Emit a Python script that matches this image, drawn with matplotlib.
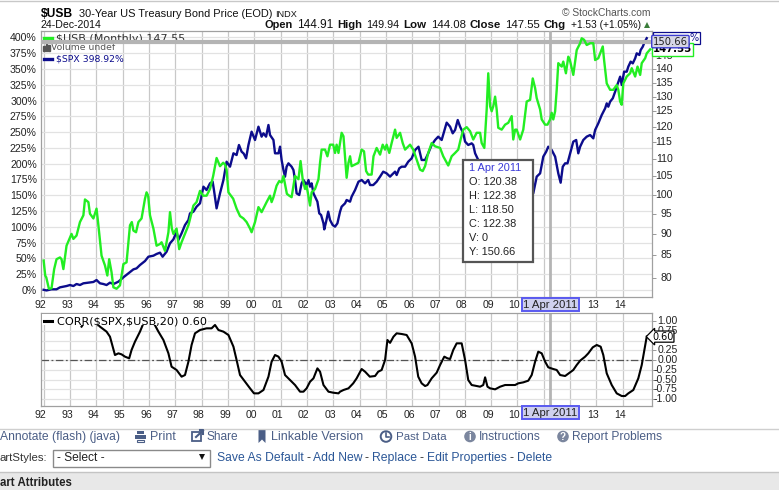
import numpy as np
import matplotlib.pyplot as plt
import matplotlib.transforms as mtrans
from matplotlib import font_manager
from matplotlib.patches import Rectangle, Polygon, Circle
from matplotlib.ticker import FixedLocator, NullLocator, NullFormatter

W, H = 779, 490

# $USB monthly close, right axis (log scale)
usb_dates = [1992.00, 1992.06, 1992.10, 1992.20, 1992.30, 1992.40, 1992.49, 1992.62, 1992.68, 1992.75,
             1992.87, 1993.06, 1993.13, 1993.25, 1993.38, 1993.51, 1993.57, 1993.70, 1993.76, 1993.89,
             1994.01, 1994.08, 1994.20, 1994.33, 1994.42, 1994.49, 1994.58, 1994.65, 1994.77, 1994.90,
             1995.03, 1995.15, 1995.28, 1995.35, 1995.41, 1995.51, 1995.60, 1995.72, 1995.85, 1995.91,
             1995.97, 1996.04, 1996.17, 1996.29, 1996.42, 1996.48, 1996.61, 1996.74, 1996.80, 1996.87,
             1996.93, 1997.05, 1997.15, 1997.24, 1997.37, 1997.50, 1997.69, 1997.81, 1997.94, 1998.06,
             1998.19, 1998.32, 1998.44, 1998.57, 1998.70, 1998.82, 1998.89, 1998.95, 1999.02, 1999.20,
             1999.33, 1999.46, 1999.59, 1999.71, 1999.84, 1999.90, 2000.03, 2000.16, 2000.28, 2000.47,
             2000.60, 2000.66, 2000.73, 2000.85, 2000.95, 2001.04, 2001.11, 2001.17, 2001.24, 2001.33,
             2001.42, 2001.49, 2001.55, 2001.68, 2001.76, 2001.84, 2001.93, 2001.99, 2002.12, 2002.18,
             2002.31, 2002.44, 2002.50, 2002.56, 2002.69, 2002.78, 2002.88, 2003.00, 2003.07, 2003.13,
             2003.20, 2003.32, 2003.39, 2003.51, 2003.58, 2003.64, 2003.70, 2003.83, 2003.96, 2004.08,
             2004.17, 2004.25, 2004.33, 2004.46, 2004.53, 2004.65, 2004.78, 2004.88, 2004.97, 2005.03,
             2005.13, 2005.22, 2005.35, 2005.41, 2005.54, 2005.64, 2005.73, 2005.86, 2005.92, 2006.04,
             2006.17, 2006.30, 2006.40, 2006.49, 2006.61, 2006.74, 2006.87, 2007.06, 2007.18, 2007.37,
             2007.50, 2007.63, 2007.75, 2007.84, 2007.94, 2008.07, 2008.20, 2008.32, 2008.45, 2008.58,
             2008.64, 2008.74, 2008.83, 2008.89, 2008.96, 2009.02, 2009.08, 2009.15, 2009.21, 2009.27,
             2009.40, 2009.53, 2009.65, 2009.78, 2009.84, 2009.91, 2009.97, 2010.10, 2010.22, 2010.35,
             2010.48, 2010.58, 2010.67, 2010.73, 2010.86, 2010.92, 2011.05, 2011.14, 2011.24, 2011.30,
             2011.36, 2011.43, 2011.49, 2011.55, 2011.68, 2011.74, 2011.84, 2011.93, 2011.99, 2012.06,
             2012.12, 2012.19, 2012.25, 2012.38, 2012.44, 2012.53, 2012.63, 2012.76, 2012.88, 2012.95,
             2013.07, 2013.14, 2013.24, 2013.29, 2013.39, 2013.52, 2013.64, 2013.77, 2013.83, 2013.90,
             2013.96, 2014.02, 2014.15, 2014.28, 2014.34, 2014.47, 2014.56, 2014.66, 2014.72, 2014.85,
             2014.91, 2015.04]
usb_price = [83.8, 80.5, 80.1, 77.7, 77.8, 81.9, 84.1, 84.5, 84.1, 81.9,
             87.2, 90.0, 88.8, 89.6, 92.9, 94.6, 98.7, 98.0, 95.0, 93.8,
             96.3, 92.1, 84.9, 82.7, 80.5, 84.1, 81.2, 78.0, 77.7, 78.4,
             83.0, 83.4, 92.1, 92.9, 90.8, 90.4, 92.9, 93.8, 98.9, 100.6,
             99.7, 94.6, 91.3, 87.2, 87.6, 88.0, 86.0, 90.4, 95.4, 91.3,
             90.0, 91.3, 86.4, 88.0, 90.0, 92.1, 97.1, 98.0, 101.0, 99.7,
             99.7, 101.5, 105.1, 110.3, 107.9, 108.9, 108.4, 106.9, 100.6, 98.9,
             96.3, 94.4, 93.8, 92.9, 91.3, 90.4, 92.9, 96.7, 95.4, 98.0,
             99.7, 98.0, 99.3, 102.4, 103.7, 103.3, 105.1, 102.8, 100.2, 99.7,
             99.3, 102.4, 105.1, 104.2, 109.4, 104.2, 101.5, 102.4, 97.1, 100.6,
             101.5, 104.2, 108.9, 112.8, 112.8, 110.8, 114.3, 114.3, 111.8, 114.3,
             111.8, 118.0, 116.9, 104.6, 108.9, 110.8, 107.9, 108.4, 108.9, 112.8,
             112.3, 106.5, 105.5, 105.5, 110.8, 113.3, 111.3, 114.3, 112.8, 114.3,
             111.8, 114.8, 119.0, 116.4, 118.0, 114.8, 112.8, 113.8, 114.3, 112.8,
             109.8, 106.9, 106.5, 107.9, 111.8, 114.8, 113.8, 113.3, 110.8, 108.1,
             110.8, 111.8, 112.8, 115.9, 119.0, 119.8, 118.5, 115.9, 118.0, 118.0,
             114.8, 113.3, 125.6, 138.4, 126.7, 125.0, 126.7, 130.0, 125.6, 119.6,
             119.0, 120.6, 121.2, 123.4, 115.9, 119.0, 119.0, 115.9, 119.0, 128.3,
             128.9, 136.5, 133.0, 129.5, 125.6, 122.3, 120.6, 120.6, 122.3, 124.5,
             122.3, 125.0, 132.4, 142.2, 140.9, 142.8, 138.4, 144.7, 143.4, 140.3,
             137.8, 142.8, 147.3, 150.0, 152.0, 151.4, 149.3, 150.0, 150.0, 143.4,
             144.1, 146.0, 148.7, 143.4, 134.7, 132.4, 132.4, 134.1, 132.4, 128.3,
             127.2, 134.7, 137.2, 138.4, 140.3, 137.2, 140.9, 137.8, 142.2, 144.1,
             146.0, 147.55]

# $SPX, percent change since the first bar (left axis)
spx_dates = [1992.00, 1992.11, 1992.30, 1992.49, 1992.62, 1992.87, 1993.00, 1993.13, 1993.25, 1993.38,
             1993.51, 1993.70, 1993.89, 1994.01, 1994.14, 1994.27, 1994.39, 1994.52, 1994.65, 1994.71,
             1994.84, 1995.03, 1995.22, 1995.41, 1995.53, 1995.66, 1995.85, 1995.98, 1996.17, 1996.29,
             1996.42, 1996.52, 1996.67, 1996.80, 1996.93, 1997.05, 1997.12, 1997.24, 1997.37, 1997.50,
             1997.56, 1997.69, 1997.81, 1997.94, 1998.07, 1998.19, 1998.32, 1998.42, 1998.47, 1998.57,
             1998.70, 1998.83, 1998.95, 1999.08, 1999.21, 1999.33, 1999.42, 1999.52, 1999.60, 1999.69,
             1999.78, 1999.90, 2000.03, 2000.16, 2000.28, 2000.35, 2000.45, 2000.54, 2000.60, 2000.73,
             2000.79, 2000.92, 2000.98, 2001.04, 2001.11, 2001.17, 2001.23, 2001.30, 2001.36, 2001.42,
             2001.49, 2001.55, 2001.61, 2001.71, 2001.80, 2001.87, 2001.99, 2002.06, 2002.12, 2002.18,
             2002.25, 2002.40, 2002.47, 2002.54, 2002.63, 2002.66, 2002.73, 2002.81, 2002.88, 2002.98,
             2003.07, 2003.16, 2003.26, 2003.32, 2003.45, 2003.51, 2003.64, 2003.70, 2003.83, 2003.96,
             2004.08, 2004.21, 2004.33, 2004.40, 2004.52, 2004.65, 2004.78, 2004.90, 2005.03, 2005.16,
             2005.22, 2005.35, 2005.41, 2005.51, 2005.60, 2005.73, 2005.85, 2005.98, 2006.11, 2006.24,
             2006.36, 2006.49, 2006.61, 2006.74, 2006.87, 2006.99, 2007.12, 2007.21, 2007.31, 2007.44,
             2007.54, 2007.63, 2007.73, 2007.82, 2007.94, 2008.01, 2008.13, 2008.26, 2008.32, 2008.39,
             2008.51, 2008.60, 2008.68, 2008.76, 2008.84, 2008.92, 2009.00, 2009.08, 2009.17, 2009.25,
             2009.33, 2009.42, 2009.50, 2009.58, 2009.67, 2009.75, 2009.83, 2009.92, 2010.00, 2010.08,
             2010.17, 2010.25, 2010.33, 2010.42, 2010.50, 2010.60, 2010.73, 2010.86, 2010.98, 2011.09,
             2011.17, 2011.30, 2011.43, 2011.55, 2011.64, 2011.72, 2011.81, 2011.90, 2012.00, 2012.12,
             2012.23, 2012.31, 2012.38, 2012.50, 2012.63, 2012.76, 2012.88, 2012.95, 2013.07, 2013.20,
             2013.33, 2013.39, 2013.45, 2013.52, 2013.62, 2013.71, 2013.77, 2013.90, 2013.96, 2014.05,
             2014.15, 2014.21, 2014.30, 2014.38, 2014.47, 2014.53, 2014.63, 2014.68, 2014.76, 2014.81,
             2014.91]
spx_pct = [0.0, -1.0, 0.8, 0.8, 3.9, 6.0, 7.6, 6.0, 9.2, 7.6,
           10.3, 11.3, 12.4, 15.5, 10.3, 9.2, 7.6, 11.3, 9.2, 10.3,
           12.9, 19.8, 26.1, 32.4, 34.0, 39.3, 45.6, 52.5, 54.1, 56.8,
           58.9, 52.5, 60.4, 73.7, 80.0, 92.2, 79.0, 89.5, 102.7, 110.6,
           121.2, 123.9, 131.8, 137.1, 163.5, 158.2, 168.8, 171.4, 158.2, 129.1,
           152.9, 174.1, 203.1, 195.2, 216.4, 213.7, 229.6, 219.0, 216.0, 208.4,
           229.6, 250.7, 237.5, 258.6, 242.8, 248.1, 242.8, 261.3, 245.4, 237.5,
           216.4, 216.4, 226.9, 205.8, 189.9, 179.4, 195.2, 200.5, 197.8, 195.2,
           189.9, 174.1, 152.9, 150.3, 168.8, 174.1, 166.1, 174.1, 163.5, 168.8,
           152.9, 139.7, 121.2, 118.6, 105.4, 95.8, 108.0, 123.9, 110.6, 102.7,
           100.1, 105.4, 123.9, 131.8, 137.1, 142.4, 139.7, 147.7, 158.2, 171.4,
           174.1, 168.8, 174.1, 166.1, 166.1, 171.4, 179.4, 187.3, 184.6, 179.4,
           182.0, 187.3, 182.0, 192.6, 195.2, 195.2, 203.1, 208.4, 221.6, 226.9,
           205.8, 205.8, 216.4, 229.6, 237.5, 242.8, 237.5, 250.7, 265.0, 258.6,
           248.1, 253.4, 269.2, 258.6, 248.1, 234.9, 229.6, 232.2, 229.6, 216.4,
           205.8, 204.0, 180.0, 132.0, 115.0, 116.0, 98.0, 76.0, 91.0, 109.0,
           120.0, 120.0, 137.0, 145.0, 153.0, 148.0, 163.0, 167.0, 157.0, 165.0,
           180.0, 185.0, 161.0, 147.0, 164.0, 152.9, 179.4, 184.6, 211.1, 219.0,
           226.9, 221.6, 211.1, 184.6, 169.8, 195.2, 200.5, 200.5, 216.4, 234.9,
           237.5, 216.4, 226.9, 237.5, 242.8, 245.4, 240.1, 253.4, 263.9, 277.1,
           287.7, 295.6, 290.3, 298.3, 303.6, 314.1, 322.1, 337.9, 324.7, 345.8,
           345.8, 353.8, 361.7, 359.0, 367.0, 374.9, 372.3, 380.2, 385.5, 390.8,
           398.92]

# CORR($SPX,$USB,20), lower panel
corr_dates = [1993.44, 1993.57, 1993.82, 1994.01, 1994.14, 1994.39, 1994.52, 1994.71, 1994.84, 1994.96,
              1995.09, 1995.25, 1995.34, 1995.47, 1995.66, 1995.79, 1995.91, 1996.10, 1996.19, 1996.36,
              1996.55, 1996.74, 1996.86, 1997.05, 1997.24, 1997.37, 1997.50, 1997.62, 1997.75, 1997.94,
              1998.19, 1998.38, 1998.51, 1998.64, 1998.83, 1999.02, 1999.21, 1999.33, 1999.46, 1999.65,
              1999.84, 1999.99, 2000.16, 2000.35, 2000.54, 2000.66, 2000.79, 2000.92, 2001.04, 2001.17,
              2001.36, 2001.55, 2001.74, 2001.87, 2001.99, 2002.12, 2002.25, 2002.40, 2002.50, 2002.63,
              2002.82, 2003.00, 2003.20, 2003.26, 2003.39, 2003.58, 2003.76, 2003.89, 2004.08, 2004.21,
              2004.39, 2004.59, 2004.71, 2004.84, 2004.97, 2005.06, 2005.16, 2005.29, 2005.41, 2005.60,
              2005.79, 2005.98, 2006.11, 2006.23, 2006.36, 2006.49, 2006.58, 2006.74, 2006.93, 2007.06,
              2007.22, 2007.34, 2007.44, 2007.56, 2007.69, 2007.88, 2008.01, 2008.13, 2008.26, 2008.45,
              2008.58, 2008.70, 2008.77, 2008.86, 2008.96, 2009.15, 2009.34, 2009.53, 2009.72, 2009.91,
              2010.03, 2010.22, 2010.41, 2010.54, 2010.67, 2010.79, 2010.92, 2011.05, 2011.17, 2011.36,
              2011.49, 2011.62, 2011.81, 2012.00, 2012.12, 2012.25, 2012.38, 2012.57, 2012.69, 2012.86,
              2013.01, 2013.16, 2013.26, 2013.39, 2013.58, 2013.77, 2013.96, 2014.09, 2014.21, 2014.40,
              2014.59, 2014.72, 2014.81, 2014.91]
corr_vals = [0.855, 0.98, 1.0, 0.94, 0.855, 0.727, 0.598, 0.128, 0.171, 0.145,
             0.086, 0.043, 0.257, 0.47, 0.727, 0.94, 0.99, 0.98, 0.94, 0.727,
             0.513, 0.171, -0.171, -0.256, -0.427, -0.385, -0.043, 0.385, 0.684, 0.769,
             0.812, 0.812, 0.898, 0.769, 0.727, 0.641, 0.342, 0.0, -0.385, -0.556,
             -0.726, -0.855, -0.855, -0.769, -0.427, -0.043, 0.128, 0.086, -0.043, -0.385,
             -0.513, -0.641, -0.812, -0.812, -0.726, -0.556, -0.47, -0.214, -0.299, -0.641,
             -0.812, -0.838, -0.855, -0.812, -0.769, -0.726, -0.598, -0.47, -0.231, -0.299,
             -0.427, -0.41, -0.299, -0.256, 0.0, 0.513, 0.44, 0.598, 0.684, 0.667,
             0.641, 0.427, 0.086, -0.427, -0.598, -0.667, -0.641, -0.47, -0.325, -0.128,
             0.086, 0.043, 0.026, 0.257, 0.427, 0.427, 0.0, -0.513, -0.641, -0.667,
             -0.684, -0.641, -0.444, -0.684, -0.726, -0.752, -0.684, -0.641, -0.641, -0.641,
             -0.598, -0.573, -0.53, -0.385, -0.043, 0.214, 0.171, -0.043, -0.188, -0.231,
             -0.256, -0.385, -0.41, -0.316, -0.256, -0.128, -0.017, 0.086, 0.171, 0.325,
             0.385, 0.342, 0.128, -0.342, -0.641, -0.855, -0.923, -0.923, -0.855, -0.769,
             -0.47, -0.128, 0.214, 0.60]

years = list(range(1992, 2015))
# 11 and 12 sit under the crosshair date box in the picture
year_labels = ['' if y in (2011, 2012) else '%02d' % (y % 100) for y in years]
pct_ticks = list(range(0, 401, 25))
price_ticks = list(range(80, 150, 5))
corr_ticks = [1.0, 0.75, 0.5, 0.25, 0.0, -0.25, -0.5, -0.75, -1.0]

cross_date = 2011.25      # 1 Apr 2011
cross_price = 150.66
tip_lines = ['O: 120.38', 'H: 122.38', 'L: 118.50', 'C: 122.38', 'V: 0', 'Y: 150.66']

GREEN = '#22ee22'
NAVY = '#0c0c8c'
VGRID = '#c8c8c8'
HGRID = '#e2e2e2'
LINK = '#2b5797'
TOOL = '#4b5e86'

try:
    font_manager.findfont('Liberation Sans Narrow', fallback_to_default=False)
    NARROW = 'Liberation Sans Narrow'
except Exception:
    NARROW = 'Liberation Sans'
ARIAL = 'Liberation Sans'
VERD = 'DejaVu Sans'

fig = plt.figure(figsize=(W / 100, H / 100), dpi=100)
renderer = fig.canvas.get_renderer()


def box(l, t, r, b):
    return [l / W, 1 - b / H, (r - l) / W, (b - t) / H]


def fit(t, width):
    # scale the font so the text spans the width measured in the picture
    w = t.get_window_extent(renderer=renderer).width
    t.set_fontsize(t.get_fontsize() * width / w)
    return t


# ---- main panel ----
ax = fig.add_axes(box(41, 31, 652, 297))
ax.set_xlim(1991.9, 2015.11)
ax.set_ylim(-11.4, 410.3)
ax.set_xticks(years)
ax.set_xticklabels(year_labels)
ax.set_yticks(pct_ticks)
ax.set_yticklabels(['%d%%' % p for p in pct_ticks])
ax.tick_params(axis='both', length=0, labelsize=7.6, colors='#222222')
ax.tick_params(axis='x', pad=2.5)
ax.tick_params(axis='y', pad=3)
for lab in ax.get_xticklabels():
    lab.set_fontfamily(ARIAL)
    lab.set_transform(lab.get_transform() + mtrans.ScaledTranslation(-0.03, 0, fig.dpi_scale_trans))
for lab in ax.get_yticklabels():
    lab.set_fontfamily(ARIAL)
ax.xaxis.grid(True, color=VGRID, lw=0.9)
ax.yaxis.grid(True, color=HGRID, lw=0.9)
ax.set_axisbelow(True)
for s in ax.spines.values():
    s.set_color('#a0a0a0')
    s.set_linewidth(0.9)
ax.plot(spx_dates, spx_pct, color=NAVY, lw=1.7, zorder=3)

# legend of the main panel (drawn under the crosshair)
pix = mtrans.Affine2D().scale(1.0 / W, -1.0 / H).translate(0, 1) + fig.transFigure
ax.plot([44, 52], [38.5, 38.5], color=GREEN, lw=2.4, transform=pix, clip_on=False)
fit(ax.text(56, 38.5, r'\$USB (Monthly) 147.55', transform=pix, va='center', family=VERD,
            fontsize=7.5, color='#333333'), 129)
for bx, bt in [(43.2, 46), (45.6, 44), (48.0, 45.2)]:
    ax.add_patch(Rectangle((bx, bt), 1.6, 51 - bt, transform=pix, color='#555555', clip_on=False))
fit(ax.text(51.5, 48, 'Volume undef', transform=pix, va='center', family=VERD,
            fontsize=7.5, color='#555555'), 64)
ax.plot([44, 52], [59, 59], color=NAVY, lw=2.4, transform=pix, clip_on=False)
fit(ax.text(56, 59, r'\$SPX 398.92%', transform=pix, va='center', family=VERD,
            fontsize=7.5, color=NAVY), 68)

# $SPX value tag: only its right end peeks out from under the crosshair tag
blend = mtrans.blended_transform_factory(ax.transAxes, ax.transData)
ax.add_patch(Rectangle((1.0015, spx_pct[-1] - 10), 47 / 611, 20, transform=blend, fc='white',
                       ec=NAVY, lw=0.9, clip_on=False, zorder=5))
ax.text(1 + 46.5 / 611, spx_pct[-1], '%', transform=blend, va='center', ha='right', family=VERD,
        fontsize=7.0, color=NAVY, zorder=6)

ax2 = ax.twinx()
ax2.set_yscale('log')
ax2.set_ylim(76.0, 155.0)
ax2.yaxis.set_major_locator(FixedLocator(price_ticks))
ax2.yaxis.set_minor_locator(NullLocator())
ax2.yaxis.set_major_formatter(NullFormatter())
ax2.yaxis.set_minor_formatter(NullFormatter())
ax2.tick_params(axis='y', length=3, width=0.7, colors='#999999')
for s in ax2.spines.values():
    s.set_visible(False)
blend2 = mtrans.blended_transform_factory(ax2.transAxes, ax2.transData)
for p in price_ticks:
    ax2.text(1 + 20.5 / 611, p, str(p), transform=blend2, ha='right', va='center',
             family=ARIAL, fontsize=7.6, color='#222222')
ax2.axhline(cross_price, color='#b4b4b4', lw=3, zorder=2)
ax2.axvline(cross_date, color='#b4b4b4', lw=2, zorder=2)
ax2.plot(usb_dates, usb_price, color=GREEN, lw=1.7, zorder=3)
ax2.text(1.0015, usb_price[-1], '147.55', transform=blend2, va='center', ha='left', family=VERD,
         fontsize=7.3, fontweight='bold', color='black',
         bbox=dict(boxstyle='square,pad=0.12', fc='white', ec=GREEN, lw=1.0))
ax2.text(1.0015, cross_price, '150.66', transform=blend2, va='center', ha='left', family=VERD,
         fontsize=7.2, color='#222222',
         bbox=dict(boxstyle='round,pad=0.12', fc='#d6d6e6', ec='#3c3cd0', lw=1.0))

# ---- lower panel ----
ax3 = fig.add_axes(box(41, 313, 652, 406))
ax3.set_xlim(1991.9, 2015.11)
ax3.set_ylim(-1.179, 1.205)
ax3.set_xticks(years)
ax3.set_xticklabels(year_labels)
ax3.yaxis.tick_right()
ax3.set_yticks(corr_ticks)
ax3.yaxis.set_major_formatter(NullFormatter())
ax3.tick_params(axis='x', length=0, labelsize=7.6, colors='#222222', pad=3)
ax3.tick_params(axis='y', length=3, width=0.7, colors='#999999')
for lab in ax3.get_xticklabels():
    lab.set_fontfamily(ARIAL)
    lab.set_transform(lab.get_transform() + mtrans.ScaledTranslation(-0.03, 0, fig.dpi_scale_trans))
ax3.xaxis.grid(True, color=VGRID, lw=0.9)
ax3.yaxis.grid(True, color=HGRID, lw=0.9)
ax3.set_axisbelow(True)
for s in ax3.spines.values():
    s.set_color('#a0a0a0')
    s.set_linewidth(0.9)
ax3.axhline(0, color='#555555', lw=0.9, ls=(0, (6, 2, 1.5, 2)), zorder=2)
ax3.axvline(cross_date, color='#b4b4b4', lw=2, zorder=2)
ax3.plot(corr_dates, corr_vals, color='black', lw=1.5, zorder=3)
blend3 = mtrans.blended_transform_factory(ax3.transAxes, ax3.transData)
for v in corr_ticks:
    if v == 0.5:
        continue   # hidden behind the 0.60 value tag
    ax3.text(1 + 25.5 / 611, v, '%.2f' % v, transform=blend3, ha='right', va='center',
             family=ARIAL, fontsize=7.6, color='#222222')
ax3.text(1.0, corr_vals[-1], '0.60', transform=blend3, va='center', ha='left', family=VERD,
         fontsize=7.0, color='black',
         bbox=dict(boxstyle='larrow,pad=0.06', fc='white', ec='black', lw=0.9))
ax3.add_patch(Rectangle((42, 314), 166, 11, transform=pix, fc='white', ec='none', zorder=4,
                        clip_on=False))
ax3.plot([44, 52], [321, 321], color='black', lw=2.2, transform=pix, clip_on=False, zorder=5)
fit(ax3.text(57, 321, r'CORR(\$SPX,\$USB,20) 0.60', transform=pix, va='center', family=VERD,
             fontsize=7.5, color='black', zorder=5), 150)

# ---- overlay: header, tooltip, date boxes, page furniture ----
top = fig.add_axes([0, 0, 1, 1])
top.set_xlim(0, W)
top.set_ylim(H, 0)
top.axis('off')
top.patch.set_alpha(0)

top.plot([0, W], [1, 1], color='#c8c8c8', lw=1)
fit(top.text(41, 17, r'\$USB', family=ARIAL, fontweight='bold', fontsize=10.5, va='baseline',
             color='black'), 32)
fit(top.text(79, 17, '30-Year US Treasury Bond Price (EOD)', family=ARIAL, fontsize=8.5,
             va='baseline', color='#111111'), 192)
fit(top.text(275, 17, 'INDX', family=ARIAL, fontsize=6.8, va='baseline', color='#111111'), 22)
fit(top.text(41, 28, '24-Dec-2014', family=ARIAL, fontsize=8, va='baseline', color='#111111'), 61)
fit(top.text(562, 13, '\u00a9 StockCharts.com', family=ARIAL, fontsize=8, va='center',
             color='#555555'), 89)

quote = [('Open', 265, 293, 'bold'), ('144.91', 297, 333, 'normal'),
         ('High', 337, 362, 'bold'), ('149.94', 366, 399, 'normal'),
         ('Low', 403, 426, 'bold'), ('144.08', 431, 466, 'normal'),
         ('Close', 470, 501, 'bold'), ('147.55', 505, 540, 'normal'),
         ('Chg', 544, 566, 'bold'), ('+1.53 (+1.05%)', 571, 641, 'normal')]
for s, x0, x1, wt in quote:
    fit(top.text(x0, 28, s, family=ARIAL, fontweight=wt, fontsize=8.3, va='baseline',
                 color='#111111'), x1 - x0)
top.plot(647.5, 25, marker='^', color='#3a7d3a', ms=5, mew=0)

# crosshair date labels
cx = ax.transData.transform((cross_date, 0))[0]
for yy in (304.5, 412.5):
    top.text(cx, yy, '1 Apr 2011', family=ARIAL, fontsize=8.2, ha='center', va='center',
             color='#222222',
             bbox=dict(boxstyle='square,pad=0.12', fc='#cfd0ee', ec='#5a5af0', lw=1.4))

# tooltip
top.add_patch(Rectangle((463.5, 160), 70, 102, fc='white', ec='#555555', lw=1.6))
top.text(469, 167.5, '1 Apr 2011', family=ARIAL, fontsize=7.9, va='center', color='#3a3ad8')
for i, s in enumerate(tip_lines):
    top.text(469, 182 + i * 14, s, family=ARIAL, fontsize=7.9, va='center', color='#222222')

# toolbar
top.plot([0, W], [428.5, 428.5], color='#cfcfcf', lw=1)
tools = [('Annotate (flash) (java)', 0, 120), ('Print', 150, 176), ('Share', 207, 239),
         ('Linkable Version', 271, 363), ('Past Data', 396, 447), ('Instructions', 479, 541),
         ('Report Problems', 572, 662)]
for s, x0, x1 in tools:
    fit(top.text(x0, 436.5, s, family=NARROW, fontsize=9, va='center', color=TOOL), x1 - x0)
# printer
top.add_patch(Rectangle((137.5, 431), 7, 3, fc=TOOL, ec='none'))
top.add_patch(Rectangle((135.5, 434.5), 11, 4.5, fc=TOOL, ec='none'))
top.add_patch(Rectangle((137.5, 439.5), 7, 2.5, fc='white', ec=TOOL, lw=0.8))
# share
top.add_patch(Rectangle((192, 432), 9, 9, fc='none', ec=TOOL, lw=1.3))
top.plot([196, 203], [437, 430.5], color=TOOL, lw=1.5)
top.plot([200, 203.5, 203.5], [430, 430, 433.5], color=TOOL, lw=1.5)
# bookmark
top.add_patch(Polygon([(258.5, 429.5), (265.5, 429.5), (265.5, 443), (262, 439.5), (258.5, 443)],
                      closed=True, fc=TOOL, ec='none'))
# clock
top.add_patch(Circle((386, 436.5), 5.3, fc='none', ec=TOOL, lw=1.4))
top.plot([386, 386, 389], [433, 436.8, 436.8], color=TOOL, lw=1.2)
# info / help
for xc, ch in [(470, 'i'), (563, '?')]:
    top.add_patch(Circle((xc, 436.5), 5.8, fc='#7b869e', ec='none'))
    top.text(xc, 437, ch, family=ARIAL, fontweight='bold', fontsize=7, color='white',
             ha='center', va='center')

# chart styles row
fit(top.text(0, 458, 'artStyles:', family=NARROW, fontsize=9, va='center', color='#333333'), 48)
top.add_patch(Rectangle((53, 449.5), 157, 17.5, fc='white', ec='#8a8a8a', lw=1))
fit(top.text(57, 458, '- Select -', family=NARROW, fontsize=9, va='center', color='#222222'), 48)
top.plot(202.5, 457, marker='v', color='#111111', ms=4.5, mew=0)
links = [('Save As Default', 217, 304), (' - ', 304, 313), ('Add New', 313, 362),
         (' - ', 362, 372), ('Replace', 372, 417), (' - ', 417, 427),
         ('Edit Properties', 427, 507), (' - ', 507, 517), ('Delete', 517, 552)]
for s, x0, x1 in links:
    if s.strip() == '-':
        top.text((x0 + x1) / 2, 458, '-', family=NARROW, fontsize=9, va='center', ha='center',
                 color='#333333')
    else:
        fit(top.text(x0, 458, s, family=NARROW, fontsize=9, va='center', color=LINK), x1 - x0)

top.plot([0, W], [472, 472], color='#c4c4c4', lw=1)
top.add_patch(Rectangle((0, 473), W, 17, fc='#e8e8e8', ec='none'))
fit(top.text(0, 483, 'art Attributes', family=NARROW, fontweight='bold', fontsize=9,
             va='center', color='#222222'), 72)

fig.savefig('out.png', dpi=100)
